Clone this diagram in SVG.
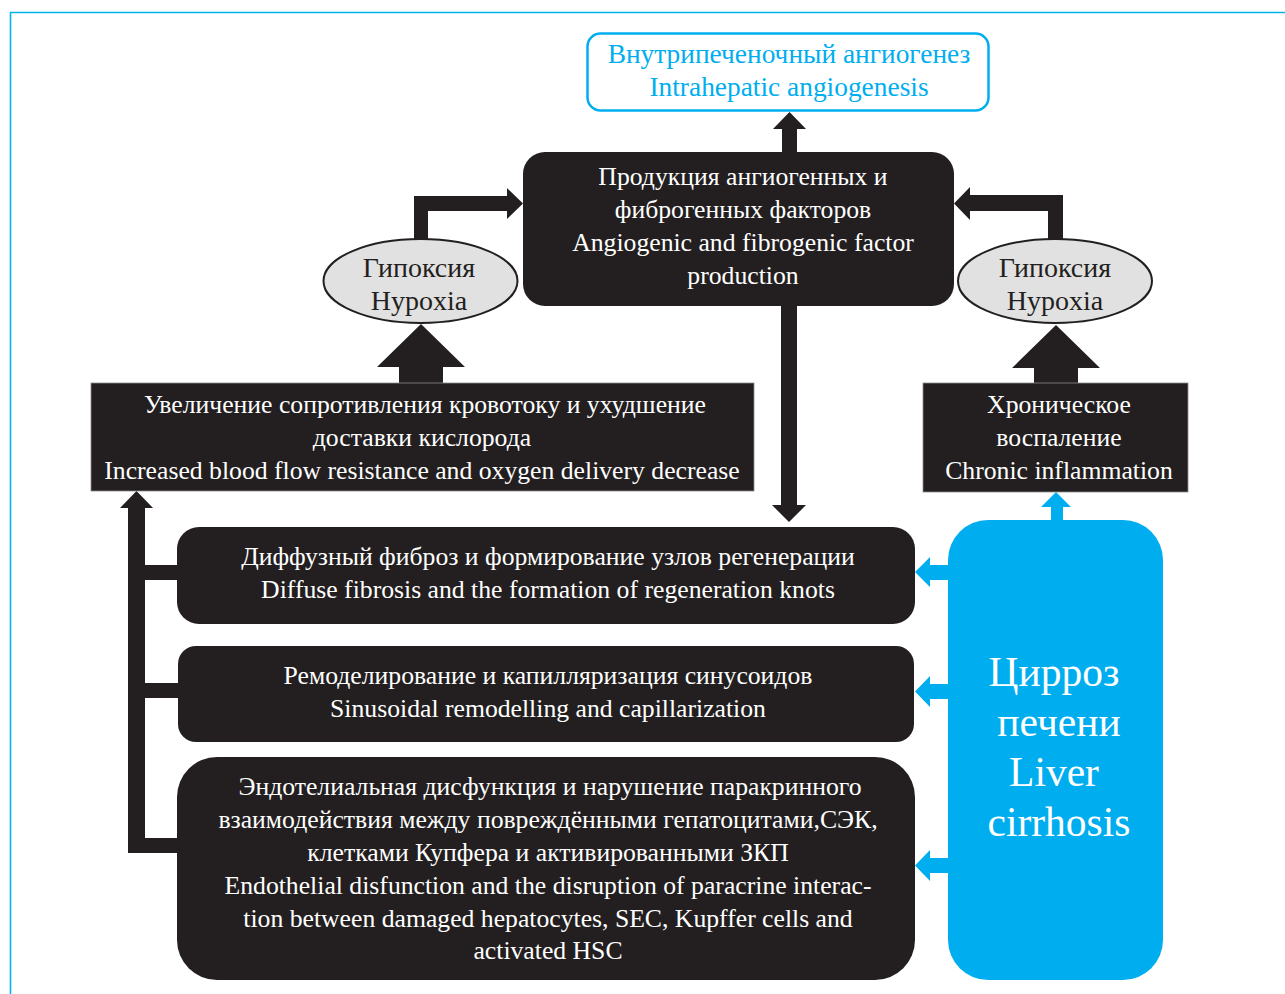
<svg xmlns="http://www.w3.org/2000/svg" width="1285" height="994" viewBox="0 0 1285 994">
<style>
.t{font-family:"Liberation Serif","Times New Roman",serif;font-size:25.7px;text-anchor:middle}
.w{fill:#ffffff}
.k{fill:#231f20}
.c{fill:#00aeef}
.top{font-size:27.4px}
.hyp{font-size:28px}
.big{font-size:41.5px}
.box{fill:#231f20}
.oval{fill:#e1e1e1;stroke:#231f20;stroke-width:2}
.arr{fill:#231f20}
.carr{fill:#00aeef}
</style>
<rect width="1285" height="994" fill="#ffffff"/>
<path d="M10.5 994 V12.5 H1285" fill="none" stroke="#00b4f0" stroke-width="1.6"/>
<g id="connectors">
<polygon class="arr" points="782,152 782,129 773,129 789.5,112 806,129 797,129 797,152"/>
<polygon class="arr" points="414,240 414,196 507,196 507,188 523,203.5 507,219 507,211 428,211 428,240"/>
<polygon class="arr" points="1063,240 1063,195 970,195 970,187 954,203.5 970,220 970,211 1048,211 1048,240"/>
<polygon class="arr" points="399,383 399,367 377,367 421,324 465,367 443,367 443,383"/>
<polygon class="arr" points="1034,383 1034,368 1012,368 1056,325 1100,368 1078,368 1078,383"/>
<polygon class="arr" points="781,306 781,505 772,505 789,522 806,505 797,505 797,306"/>
<polygon class="arr" points="128,853 128,508 120,508 136.5,491 153,508 145,508 145,565 177,565 177,580 145,580 145,683 178,683 178,698 145,698 145,838 177,838 177,853"/>
<polygon class="carr" points="1051,521 1051,507 1041,507 1056,492 1071,507 1063,507 1063,521"/>
<polygon class="carr" points="948,565 930,565 930,557 915,572 930,587 930,580 948,580"/>
<polygon class="carr" points="948,684 930,684 930,676 915,691.5 930,707 930,699 948,699"/>
<polygon class="carr" points="948,858 930,858 930,850 915,865.5 930,881 930,873 948,873"/>
</g>
<g id="angiogenesis">
<rect x="587.5" y="33.5" width="401" height="77" rx="13" fill="#ffffff" stroke="#00aeef" stroke-width="2.5"/>
<text class="t c top" x="789" y="63">Внутрипеченочный ангиогенез</text>
<text class="t c top" x="789" y="96">Intrahepatic angiogenesis</text>
</g>
<g id="factors">
<rect class="box" x="523" y="152" width="431" height="154" rx="22"/>
<text class="t w" x="743" y="185">Продукция ангиогенных и</text>
<text class="t w" x="743" y="218">фиброгенных факторов</text>
<text class="t w" x="743" y="251">Angiogenic and fibrogenic factor</text>
<text class="t w" x="743" y="284">production</text>
</g>
<g id="hypoxia-left">
<ellipse class="oval" cx="420.5" cy="281" rx="97" ry="42"/>
<text class="t k hyp" x="419" y="277">Гипоксия</text>
<text class="t k hyp" x="419" y="310">Hypoxia</text>
</g>
<g id="hypoxia-right">
<ellipse class="oval" cx="1055" cy="281" rx="97" ry="42"/>
<text class="t k hyp" x="1055" y="277">Гипоксия</text>
<text class="t k hyp" x="1055" y="310">Hypoxia</text>
</g>
<g id="resistance">
<rect class="box" x="91" y="383" width="663" height="108" stroke="#8a8a8a" stroke-width="0.8"/>
<text class="t w" x="425" y="413">Увеличение сопротивления кровотоку и ухудшение</text>
<text class="t w" x="422" y="446">доставки кислорода</text>
<text class="t w" x="422" y="479">Increased blood flow resistance and oxygen delivery decrease</text>
</g>
<g id="inflammation">
<rect class="box" x="923" y="383" width="265" height="109" stroke="#8a8a8a" stroke-width="0.8"/>
<text class="t w" x="1059" y="413">Хроническое</text>
<text class="t w" x="1059" y="446">воспаление</text>
<text class="t w" x="1059" y="479">Chronic inflammation</text>
</g>
<g id="fibrosis">
<rect class="box" x="177" y="527" width="738" height="97" rx="22"/>
<text class="t w" x="548" y="565">Диффузный фиброз и формирование узлов регенерации</text>
<text class="t w" x="548" y="598">Diffuse fibrosis and the formation of regeneration knots</text>
</g>
<g id="remodelling">
<rect class="box" x="178" y="646" width="736" height="96" rx="18"/>
<text class="t w" x="548" y="684">Ремоделирование и капилляризация синусоидов</text>
<text class="t w" x="548" y="717">Sinusoidal remodelling and capillarization</text>
</g>
<g id="endothelial">
<rect class="box" x="177" y="757" width="738" height="223" rx="40"/>
<text class="t w" x="550" y="795">Эндотелиальная дисфункция и нарушение паракринного</text>
<text class="t w" x="548" y="828">взаимодействия между повреждёнными гепатоцитами,СЭК,</text>
<text class="t w" x="548" y="861">клетками Купфера и активированными ЗКП</text>
<text class="t w" x="548" y="894">Endothelial disfunction and the disruption of paracrine interac-</text>
<text class="t w" x="548" y="927">tion between damaged hepatocytes, SEC, Kupffer cells and</text>
<text class="t w" x="548" y="959">activated HSC</text>
</g>
<g id="cirrhosis">
<rect x="948" y="520" width="215" height="460" rx="40" fill="#00aeef"/>
<text class="t w big" x="1054" y="686">Цирроз</text>
<text class="t w big" x="1059" y="736">печени</text>
<text class="t w big" x="1054" y="786">Liver</text>
<text class="t w big" x="1059" y="836">cirrhosis</text>
</g>
</svg>
